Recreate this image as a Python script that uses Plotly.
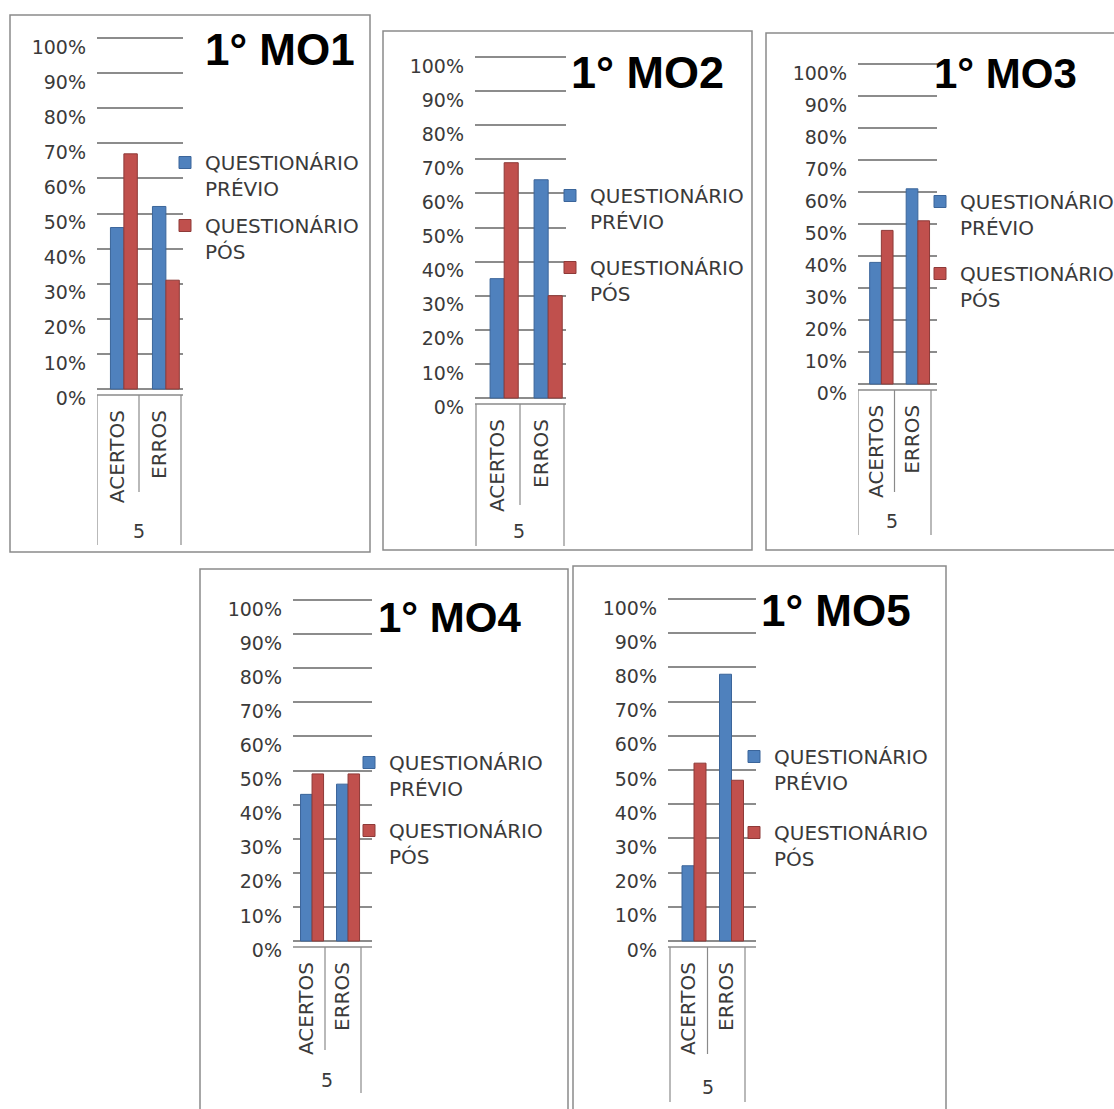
import plotly.graph_objects as go

W, H = 1114, 1109

# ---------------- data ----------------
categories = ["ACERTOS", "ERROS"]
group_label = "5"
series_names = ["QUESTIONÁRIO<br>PRÉVIO", "QUESTIONÁRIO<br>PÓS"]
titles = ["1° MO1", "1° MO2", "1° MO3", "1° MO4", "1° MO5"]
y_ticks = [0, 10, 20, 30, 40, 50, 60, 70, 80, 90, 100]
y_tick_labels = ["0%", "10%", "20%", "30%", "40%", "50%", "60%", "70%", "80%", "90%", "100%"]

mo1_previo = [46, 52]
mo1_pos = [67, 31]
mo2_previo = [35, 64]
mo2_pos = [69, 30]
mo3_previo = [38, 61]
mo3_pos = [48, 51]
mo4_previo = [43, 46]
mo4_pos = [49, 49]
mo5_previo = [22, 78]
mo5_pos = [52, 47]

previo_sets = [mo1_previo, mo2_previo, mo3_previo, mo4_previo, mo5_previo]
pos_sets = [mo1_pos, mo2_pos, mo3_pos, mo4_pos, mo5_pos]

# ---------------- styling / geometry (pixels) ----------------
series_colors = ["#4F81BD", "#C0504D"]
series_edges = ["#3B659A", "#8E3A38"]
FONT = "DejaVu Sans"
TXT = "#3a3a3a"
GRID = "#8c8c8c"
LINE = "#8a8a8a"
PAD = 0.6          # range padding (value units) so edge gridlines are drawn
BAR_W = 0.32       # bar width in category units
BAR_SHIFT = 0.14   # pseudo-3D rightward shift of the bar pair
FRONT = 6          # px between back-wall 0% gridline and front category axis line

# gx: gridline extent, cat: category left/right edges, yt/yb: 100%/0% gridline
panels = [
    dict(gx=(97, 183), cat=(97, 181), yt=38, yb=389, box=(10, 15, 370, 552),
         title=(280, 50), tsize=44, leg=(205, 163), gap=8,
         cat_bot=545, cat_mid=492, left_line=True, grp=(139, 531)),
    dict(gx=(475, 566), cat=(476, 564), yt=57, yb=398, box=(383, 31, 752, 550),
         title=(647, 72), tsize=45, leg=(590, 196), gap=17,
         cat_bot=546, cat_mid=505, left_line=True, grp=(519, 531)),
    dict(gx=(858, 937), cat=(858, 931), yt=64, yb=384, box=(766, 33, 1125, 550),
         title=(1005, 73), tsize=42, leg=(960, 202), gap=17,
         cat_bot=535, cat_mid=492, left_line=True, grp=(892, 521)),
    dict(gx=(293, 372), cat=(289, 361), yt=600, yb=941, box=(200, 569, 568, 1120),
         title=(449, 617), tsize=42, leg=(389, 763), gap=13,
         cat_bot=1093, cat_mid=1050, left_line=False, grp=(327, 1080)),
    dict(gx=(668, 756), cat=(670, 745), yt=599, yb=941, box=(573, 566, 946, 1120),
         title=(836, 610), tsize=44, leg=(774, 757), gap=21,
         cat_bot=1102, cat_mid=1054, left_line=True, grp=(708, 1087)),
]


def px(x):
    return x / W


def py(y):
    return 1 - y / H


fig = go.Figure()
layout = dict(
    width=W, height=H, margin=dict(l=0, r=0, t=0, b=0, autoexpand=False),
    paper_bgcolor="white", plot_bgcolor="rgba(0,0,0,0)",
    barmode="group", showlegend=True,
    font=dict(family=FONT, size=18, color=TXT),
)
shapes = []
annotations = []

for i, p in enumerate(panels):
    n = i + 1
    xa = "x" if n == 1 else f"x{n}"
    ya = "y" if n == 1 else f"y{n}"
    leg = "legend" if n == 1 else f"legend{n}"
    offsets = [-BAR_W + BAR_SHIFT, BAR_SHIFT]
    for s, (vals, name) in enumerate(zip([previo_sets[i], pos_sets[i]], series_names)):
        fig.add_trace(go.Bar(
            x=categories, y=vals, name=name, xaxis=xa, yaxis=ya,
            legend=leg, legendgroup=f"g{n}_{s}",
            width=BAR_W, offset=offsets[s],
            marker=dict(color=series_colors[s], line=dict(color=series_edges[s], width=1)),
            hoverinfo="skip",
        ))
    gx0, gx1 = p["gx"]
    cl, cr = p["cat"]
    u = (cr - cl) / 2.0
    r0 = -0.5 - (cl - gx0) / u
    r1 = 1.5 + (gx1 - cr) / u
    ppu = (p["yb"] - p["yt"]) / 100.0
    dom_b = p["yb"] + PAD * ppu
    dom_t = p["yt"] - PAD * ppu
    xkey = "xaxis" if n == 1 else f"xaxis{n}"
    ykey = "yaxis" if n == 1 else f"yaxis{n}"
    layout[xkey] = dict(
        domain=[px(gx0), px(gx1)], anchor=ya, type="category", range=[r0, r1],
        categoryorder="array", categoryarray=categories, automargin=False,
        tickangle=-90, showgrid=False, showline=False, zeroline=False, ticks="",
        tickfont=dict(family=FONT, size=20, color=TXT), ticklabelstandoff=14,
        fixedrange=True,
    )
    layout[ykey] = dict(
        domain=[py(dom_b), py(dom_t)], anchor=xa, range=[-PAD, 100 + PAD],
        tickmode="array", tickvals=y_ticks, ticktext=y_tick_labels, automargin=False,
        showgrid=True, gridcolor=GRID, gridwidth=1.6,
        zeroline=False, showline=False, ticks="",
        tickfont=dict(family=FONT, size=19, color=TXT),
        ticklabelshift=9, ticklabelstandoff=10, fixedrange=True,
    )
    lx, ly = p["leg"]
    layout[leg] = dict(
        x=px(lx - 40), y=py(ly - 20), xanchor="left", yanchor="top",
        bgcolor="rgba(0,0,0,0)", borderwidth=0, valign="top",
        font=dict(family=FONT, size=20, color=TXT), tracegroupgap=p["gap"],
        traceorder="grouped",
    )
    bx0, by0, bx1, by1 = p["box"]
    shapes.append(dict(type="rect", xref="paper", yref="paper",
                       x0=px(bx0), x1=px(bx1), y0=py(by1), y1=py(by0),
                       line=dict(color=LINE, width=1.5), fillcolor="rgba(0,0,0,0)",
                       layer="below"))
    axis_y = p["yb"] + FRONT
    shapes.append(dict(type="line", xref="paper", yref="paper",
                       x0=px(gx0), x1=px(gx1), y0=py(axis_y), y1=py(axis_y),
                       line=dict(color=LINE, width=1.6)))
    seps = [(0.5, p["cat_mid"]), (1.5, p["cat_bot"])]
    if p["left_line"]:
        seps.insert(0, (-0.5, p["cat_bot"]))
    for xc, bot in seps:
        shapes.append(dict(type="line", xref=xa, yref="paper", x0=xc, x1=xc,
                           y0=py(axis_y), y1=py(bot),
                           line=dict(color=LINE, width=1.2)))
    tx, ty = p["title"]
    annotations.append(dict(text=f"<b>{titles[i]}</b>", xref="paper", yref="paper",
                            x=px(tx), y=py(ty), xanchor="center", yanchor="middle",
                            showarrow=False,
                            font=dict(family="Liberation Sans", size=p["tsize"], color="black")))
    gx, gy = p["grp"]
    annotations.append(dict(text=group_label, xref="paper", yref="paper",
                            x=px(gx), y=py(gy), xanchor="center", yanchor="middle",
                            showarrow=False, font=dict(family=FONT, size=19, color=TXT)))

layout["shapes"] = shapes
layout["annotations"] = annotations
fig.update_layout(**layout)
fig.write_html("out.html")
